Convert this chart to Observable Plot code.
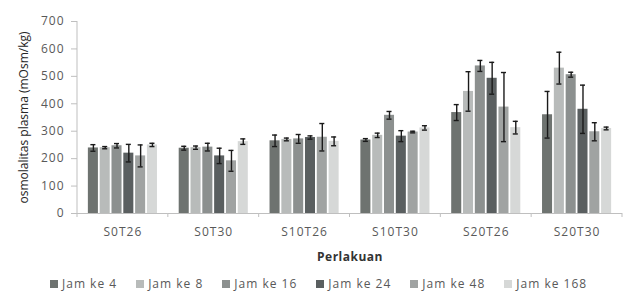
<!DOCTYPE html>
<html>
<head>
<meta charset="utf-8">
<script src="https://cdn.jsdelivr.net/npm/d3@7"></script>
<script src="https://cdn.jsdelivr.net/npm/@observablehq/plot@0.6"></script>
<style>
  html, body { margin: 0; padding: 0; background: #fff; }
  #chart { width: 628px; height: 291px; overflow: hidden; font-family: 'Open Sans', sans-serif; }
  #chart svg { display: block; }
  g[aria-label="y-axis label"] text { letter-spacing: 0; font-size: 12px; fill: #262626; }
  g[aria-label="fx-axis label"] text { font-weight: bold; fill: #333; letter-spacing: 0.5px; }
  body .lg-swatches-wrap { min-height: 0 !important; height: 14px; margin: 0 0 0 50px !important; font: 12px 'Open Sans', sans-serif; letter-spacing: 1px; color: #595959; line-height: 14px; }
  body .lg-swatches-wrap .lg-swatch { margin-right: 19px !important; }
  body .lg-swatch > svg { margin-right: 4px !important; }
</style>
</head>
<body>
<div id="chart"></div>
<script>
const categories = ["S0T26", "S0T30", "S10T26", "S10T30", "S20T26", "S20T30"];
const series = ["Jam ke 4", "Jam ke 8", "Jam ke 16", "Jam ke 24", "Jam ke 48", "Jam ke 168"];
const colors = ["#6e7370", "#b8bbba", "#8c908f", "#5a5f60", "#a0a3a2", "#d6d8d7"];
const yTicks = [0, 100, 200, 300, 400, 500, 600, 700];

// mean values per series, in category order
const jam4   = [239, 238, 265, 268, 368, 360];
const jam8   = [240, 240, 270, 285, 445, 530];
const jam16  = [247, 242, 272, 358, 538, 506];
const jam24  = [220, 210, 277, 282, 493, 380];
const jam48  = [210, 192, 278, 297, 388, 298];
const jam168 = [250, 262, 263, 312, 313, 310];

// error (+/-) per series, in category order
const err4   = [12, 7, 21, 5, 29, 85];
const err8   = [4, 6, 5, 8, 72, 58];
const err16  = [8, 14, 16, 14, 20, 9];
const err24  = [32, 28, 6, 20, 58, 88];
const err48  = [40, 38, 50, 3, 126, 33];
const err168 = [6, 10, 16, 8, 23, 5];

const values = [jam4, jam8, jam16, jam24, jam48, jam168];
const errors = [err4, err8, err16, err24, err48, err168];

const rows = categories.flatMap((c, ci) => series.map((s, si) => ({
  category: c, series: s, value: values[si][ci], err: errors[si][ci]
})));

const errStroke = "#1a1a1a";
const plot = Plot.plot({
  width: 628,
  height: 277,
  marginTop: 21,
  marginRight: 6,
  marginBottom: 64,
  marginLeft: 77,
  style: { fontFamily: "'Open Sans', sans-serif", fontSize: "12px", color: "#595959", letterSpacing: "1px", background: "#fff" },
  fx: { domain: categories, paddingInner: 0, paddingOuter: 0, round: false },
  x: { domain: series, paddingInner: 0.15, paddingOuter: 0.92, round: false, axis: null },
  y: { domain: [0, 700] },
  color: { domain: series, range: colors },
  marks: [
    Plot.barY(rows, { fx: "category", x: "series", y: "value", fill: "series" }),
    Plot.ruleX(rows, { fx: "category", x: "series", y1: d => d.value - d.err, y2: d => d.value + d.err, stroke: errStroke, strokeWidth: 1.4 }),
    Plot.tickY(rows, { fx: "category", x: "series", y: d => d.value - d.err, stroke: errStroke, strokeWidth: 1.4, insetLeft: 2.5, insetRight: 2.5 }),
    Plot.tickY(rows, { fx: "category", x: "series", y: d => d.value + d.err, stroke: errStroke, strokeWidth: 1.4, insetLeft: 2.5, insetRight: 2.5 }),
    Plot.ruleY([0], { stroke: "#bfbfbf" }),
    Plot.axisY({ ticks: yTicks, tickSize: 6, tickPadding: 7, stroke: "#bfbfbf", fill: "#595959",
      label: "osmolalitas plasma (mOsm/kg)", labelAnchor: "center", labelOffset: 58, labelArrow: "none" }),
    Plot.axisFx({ anchor: "bottom", tickSize: 0, tickPadding: 14, fill: "#595959",
      label: "Perlakuan", labelAnchor: "center", labelOffset: 47, labelArrow: "none" })
  ]
});

// axis line and category boundary ticks, placed from the plot's own scales
const fx = plot.scale("fx");
const y = plot.scale("y");
const svg = d3.select(plot.tagName.toLowerCase() === "svg" ? plot : plot.querySelector("svg"));
const x0 = fx.apply(categories[0]);
const y0 = y.apply(0);
const g = svg.append("g").attr("stroke", "#bfbfbf").attr("stroke-width", 1);
g.append("line").attr("x1", x0).attr("x2", x0).attr("y1", y.apply(700)).attr("y2", y0);
const bounds = categories.map(c => fx.apply(c)).concat([fx.apply(categories[categories.length - 1]) + fx.bandwidth]);
g.selectAll("line.b").data(bounds).join("line").attr("class", "b")
  .attr("x1", d => d).attr("x2", d => d).attr("y1", y0).attr("y2", y0 + 4);

document.getElementById("chart").append(plot);

const legend = Plot.legend({
  color: { domain: series, range: colors },
  swatchSize: 8,
  className: "lg"
});
document.getElementById("chart").append(legend);
</script>
</body>
</html>
